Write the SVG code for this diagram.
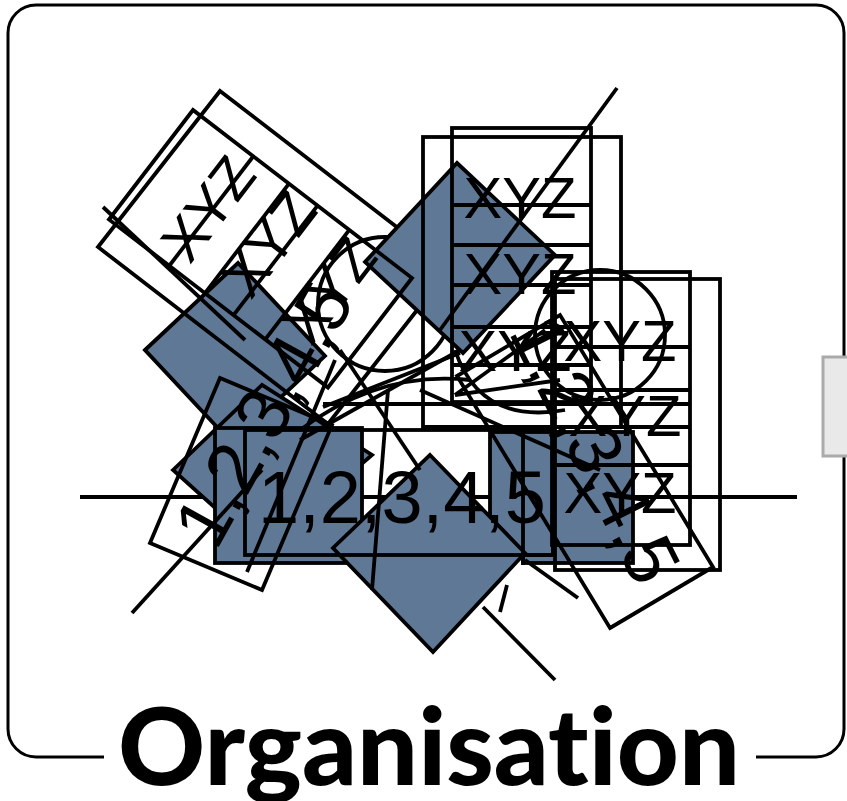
<svg xmlns="http://www.w3.org/2000/svg" width="847" height="801" viewBox="0 0 847 801">
<style>
.o{fill:none;stroke:#000;stroke-width:3.8}
.b{fill:#5f7896;stroke:#000;stroke-width:3.8}
.l{stroke:#000;stroke-width:3.8;fill:none}
.t{font-family:"Liberation Sans",Arial,sans-serif;font-size:58px;fill:#000}
.n{font-family:"Liberation Sans",Arial,sans-serif;font-size:74px;fill:#000}
</style>
<rect x="0" y="0" width="847" height="801" fill="#fff"/>
<g id="frame">
<rect x="8" y="5" width="836" height="752" rx="28" fill="none" stroke="#000" stroke-width="3"/>
<rect x="823" y="357" width="30" height="99" fill="#e9e9e9" stroke="#aaa" stroke-width="3"/>
</g>
<g id="connectors-back">
<line class="l" x1="80" y1="497" x2="797" y2="497"/>
</g>
<g id="blueB"><polygon class="b" points="145,350 238,263 325,356 232,443"/></g>
<g id="blueC"><polygon class="b" points="173,470 262,385 372,455 262,550"/></g>
<g id="E1"><polygon class="o" points="220,91 450,268 328,424 98,247"/></g>
<g id="circleL"><circle class="o" cx="385" cy="304" r="67"/></g>
<g id="blueA"><polygon class="b" points="457,163 555,255 463,353 365,262"/></g>
<g id="E2" transform="translate(193,110) rotate(37.5)">
<rect class="o" x="0" y="0" width="276" height="138"/>
<line class="l" x1="76" y1="0" x2="76" y2="138"/>
<line class="l" x1="121" y1="0" x2="121" y2="138"/>
<line class="l" x1="157" y1="0" x2="157" y2="138"/>
<line class="l" x1="197" y1="0" x2="197" y2="138"/>
<text class="t" text-anchor="middle" transform="translate(92,69) rotate(-90)">XYZ</text>
<text class="t" text-anchor="middle" transform="translate(162,60) rotate(-90)">XYZ</text>
<text class="t" text-anchor="middle" transform="translate(238,60) rotate(-90)">XYZ</text>
</g>
<g id="bottomBlue">
<rect class="b" x="215" y="428" width="147" height="135"/>
<rect class="b" x="523" y="432" width="110" height="131"/>
<rect class="b" x="490" y="432" width="63" height="123"/>
<polygon class="b" points="430,455 525,553 433,652 333,548"/>
</g>
<g id="F">
<rect class="o" x="423" y="137" width="198" height="290"/>
<rect class="o" x="452" y="128" width="139" height="274"/>
<line class="l" x1="452" y1="205" x2="591" y2="205"/>
<line class="l" x1="452" y1="245" x2="591" y2="245"/>
<line class="l" x1="452" y1="285" x2="591" y2="285"/>
<line class="l" x1="452" y1="327" x2="591" y2="327"/>
<line class="l" x1="452" y1="365" x2="591" y2="365"/>
<text class="t" x="520" y="218" text-anchor="middle">XYZ</text>
<text class="t" x="520" y="294" text-anchor="middle">XYZ</text>
<text class="t" x="515" y="371" text-anchor="middle">XYZ</text>
</g>
<g id="circleR"><circle class="o" cx="600" cy="335" r="65"/></g>
<g id="G">
<rect class="o" x="552" y="272" width="138" height="273"/>
<rect class="o" x="555" y="279" width="165" height="291"/>
<line class="l" x1="552" y1="347" x2="690" y2="347"/>
<line class="l" x1="552" y1="390" x2="690" y2="390"/>
<line class="l" x1="552" y1="427" x2="690" y2="427"/>
<line class="l" x1="552" y1="465" x2="690" y2="465"/>
<text class="t" x="620" y="361" text-anchor="middle">XYZ</text>
<text class="t" x="625" y="436" text-anchor="middle">XYZ</text>
<text class="t" x="620" y="513" text-anchor="middle">XYZ</text>
</g>
<g id="connectors">
<line class="l" x1="617" y1="88" x2="440" y2="330"/>
<line class="l" x1="103" y1="207" x2="245" y2="340"/>
<line class="l" x1="132" y1="613" x2="262" y2="470"/>
<line class="l" x1="372" y1="590" x2="388" y2="390"/>
<line class="l" x1="247" y1="572" x2="335" y2="360"/>
<line class="l" x1="483" y1="607" x2="555" y2="680"/>
<line class="l" x1="525" y1="560" x2="578" y2="598"/>
<line class="l" x1="500" y1="612" x2="507" y2="585"/>
<line class="l" x1="323" y1="407" x2="460" y2="353"/>
<line class="l" x1="323" y1="404" x2="690" y2="404"/>
<line class="l" x1="423" y1="427" x2="552" y2="427"/>
<line class="l" x1="300" y1="440" x2="460" y2="350"/>
<line class="l" x1="340" y1="350" x2="420" y2="470"/>
<line class="l" x1="455" y1="395" x2="545" y2="330"/>
<line class="l" x1="420" y1="390" x2="600" y2="470"/>
<line class="l" x1="455" y1="395" x2="560" y2="380"/>
<line class="l" x1="523" y1="430" x2="523" y2="565"/>
<path class="l" d="M300 430 Q380 370 470 380"/>
<path class="l" d="M455 350 Q480 425 565 410"/>
</g>
<g id="H"><polygon class="o" points="150,543 262,590 332,425 220,378"/></g>
<g id="I"><polygon class="o" points="610,628 713,567 560,315 457,376"/></g>
<g id="labels">
<rect class="o" x="245" y="430" width="308" height="125"/>
<text class="n" x="258" y="523">1,2,3,4,5</text>
<text class="n" transform="translate(216,552) rotate(-61)">1,2,3,4,5</text>
<text class="n" transform="translate(508,332) rotate(63.4)">1,2,3,4,5</text>
</g>
<g id="title">
<rect x="104" y="735" width="652" height="45" fill="#fff"/>
<text x="429" y="785" text-anchor="middle" font-family="Lato,'Liberation Sans',sans-serif" font-weight="900" font-size="106" textLength="622" lengthAdjust="spacingAndGlyphs" style="font-variant-ligatures:none;font-feature-settings:'liga' 0">Organisation</text>
</g>
</svg>
